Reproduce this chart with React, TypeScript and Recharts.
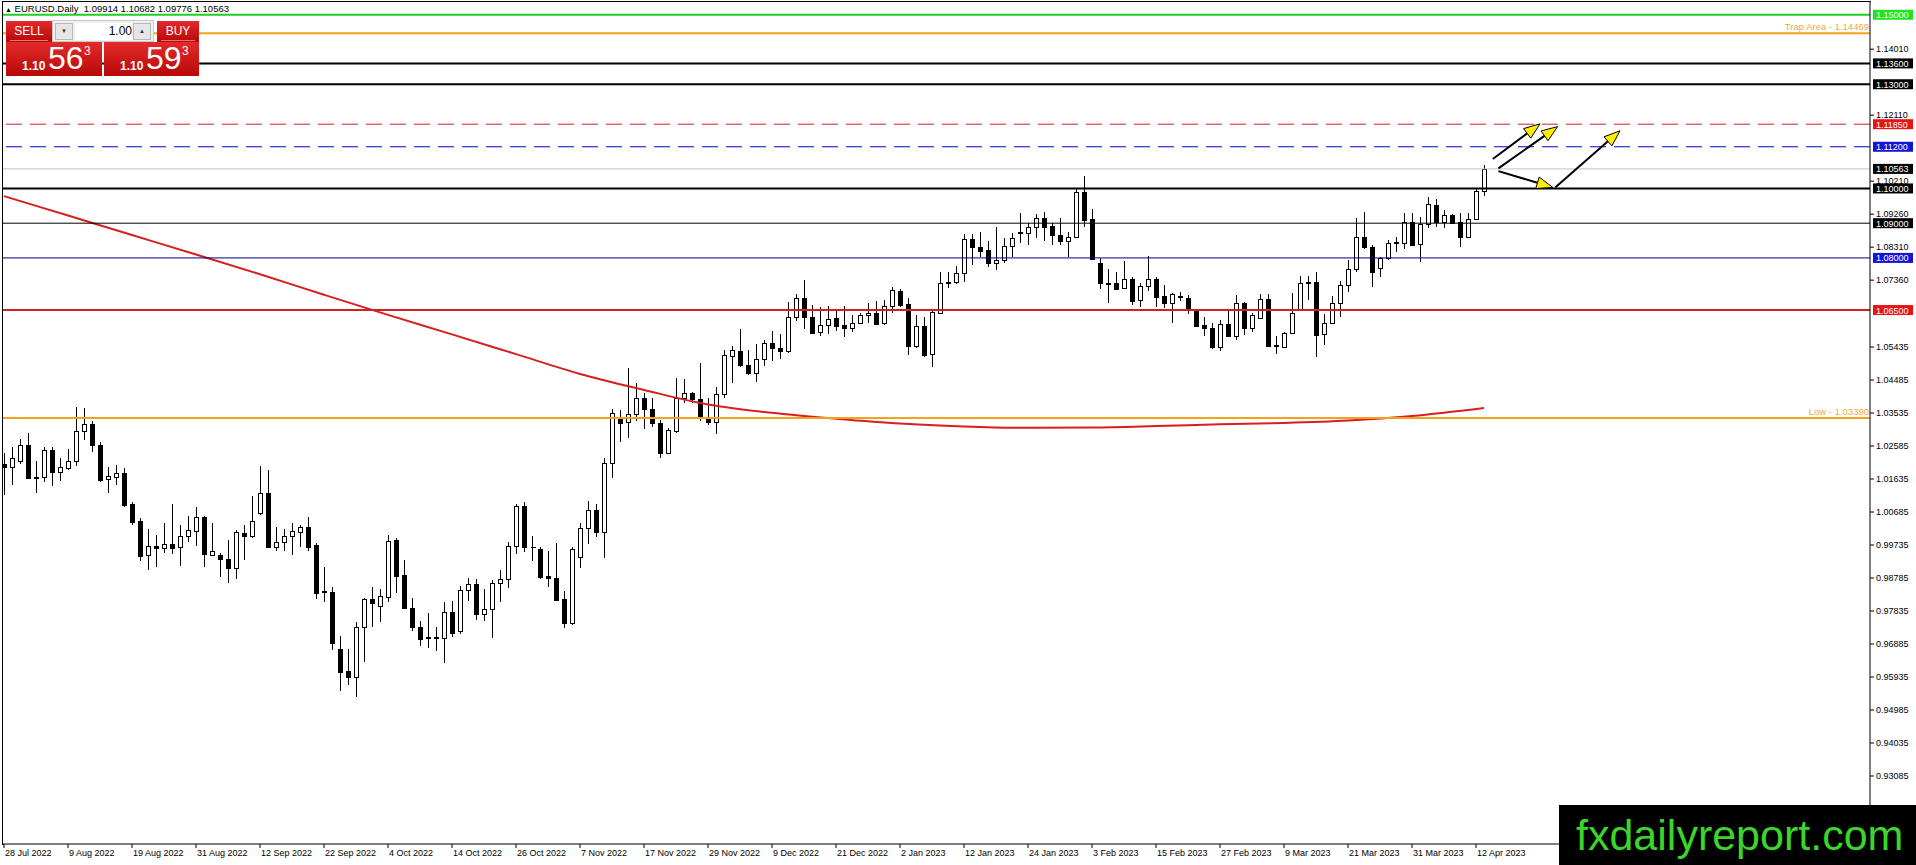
import React from 'react';
import { ComposedChart, Bar, Line, XAxis, YAxis, ReferenceLine } from 'recharts';

const FONT = "Tahoma, 'Liberation Sans', Arial, sans-serif";

// EURUSD daily candles, bar 0 = 28 Jul 2022 ... bar 185 = 13 Apr 2023
const opens = [
  1.0207, 1.0197, 1.0214, 1.0261, 1.0168, 1.0168, 1.0247, 1.0183, 1.0196, 1.0215,
  1.0302, 1.0322, 1.0262, 1.0163, 1.0170, 1.0180, 1.0092, 1.0043, 0.9944, 0.9971,
  0.9964, 0.9976, 0.9967, 0.9998, 1.0015, 1.0053, 0.9946, 0.9945, 0.9932, 0.9906,
  1.0007, 0.9998, 1.0067, 1.0122, 0.9969, 0.9981, 1.0000, 1.0012, 1.0024, 0.9974,
  0.9840, 0.9837, 0.9673, 0.9611, 0.9594, 0.9736, 0.9818, 0.9799, 0.9825, 0.9988,
  0.9887, 0.9793, 0.9738, 0.9708, 0.9707, 0.9705, 0.9780, 0.9727, 0.9844, 0.9860,
  0.9774, 0.9788, 0.9864, 0.9875, 0.9971, 1.0086, 0.9967, 0.9961, 0.9884, 0.9878,
  0.9817, 0.9750, 0.9940, 1.0022, 1.0074, 1.0012, 1.0209, 1.0338, 1.0327, 1.0351,
  1.0396, 1.0364, 1.0324, 1.0239, 1.0303, 1.0396, 1.0412, 1.0393, 1.0338, 1.0329,
  1.0407, 1.0518, 1.0532, 1.0492, 1.0468, 1.0508, 1.0554, 1.0540, 1.0533, 1.0631,
  1.0684, 1.0629, 1.0588, 1.0607, 1.0626, 1.0607, 1.0597, 1.0614, 1.0636, 1.0642,
  1.0612, 1.0662, 1.0706, 1.0667, 1.0547, 1.0604, 1.0522, 1.0640, 1.0728, 1.0732,
  1.0758, 1.0854, 1.0831, 1.0823, 1.0786, 1.0794, 1.0833, 1.0872, 1.0871, 1.0888,
  1.0916, 1.0892, 1.0866, 1.0850, 1.0861, 1.0989, 1.0911, 1.0786, 1.0727, 1.0727,
  1.0712, 1.0738, 1.0679, 1.0720, 1.0738, 1.0690, 1.0671, 1.0688, 1.0686, 1.0648,
  1.0607, 1.0597, 1.0544, 1.0610, 1.0576, 1.0669, 1.0597, 1.0626, 1.0681, 1.0549,
  1.0544, 1.0583, 1.0652, 1.0727, 1.0732, 1.0581, 1.0614, 1.0671, 1.0722, 1.0767,
  1.0859, 1.0832, 1.0770, 1.0799, 1.0845, 1.0844, 1.0904, 1.0840, 1.0898, 1.0952,
  1.0904, 1.0923, 1.0904, 1.0859, 1.0911, 1.09914,
];

const highs = [
  1.0237, 1.0257, 1.0278, 1.0295, 1.0214, 1.0257, 1.0255, 1.0223, 1.0249, 1.0372,
  1.0369, 1.0331, 1.0271, 1.0197, 1.0204, 1.0194, 1.0098, 1.0050, 1.0019, 1.0002,
  1.0036, 1.0092, 1.0031, 1.0057, 1.0082, 1.0057, 1.0036, 0.9950, 0.9988, 1.0017,
  1.0031, 1.0115, 1.0201, 1.0190, 1.0026, 1.0019, 1.0038, 1.0031, 1.0053, 0.9978,
  0.9909, 0.9854, 0.9712, 0.9673, 0.9753, 0.9820, 0.9854, 0.9846, 1.0002, 0.9995,
  0.9930, 0.9820, 0.9755, 0.9777, 0.9738, 0.9809, 0.9812, 0.9856, 0.9878, 0.9875,
  0.9846, 0.9873, 0.9902, 0.9983, 1.0092, 1.0097, 0.9999, 0.9967, 0.9956, 0.9980,
  0.9841, 0.9969, 1.0036, 1.0100, 1.0092, 1.0223, 1.0364, 1.0362, 1.0482, 1.0439,
  1.0412, 1.0396, 1.0333, 1.0309, 1.0453, 1.0450, 1.0415, 1.0497, 1.0396, 1.0429,
  1.0535, 1.0546, 1.0594, 1.0535, 1.0552, 1.0564, 1.0590, 1.0581, 1.0674, 1.0696,
  1.0736, 1.0665, 1.0660, 1.0662, 1.0648, 1.0662, 1.0636, 1.0641, 1.0671, 1.0676,
  1.0679, 1.0717, 1.0710, 1.0684, 1.0636, 1.0631, 1.0650, 1.0760, 1.0760, 1.0777,
  1.0869, 1.0869, 1.0876, 1.0850, 1.0888, 1.0856, 1.0871, 1.0928, 1.0900, 1.0926,
  1.0933, 1.0900, 1.0914, 1.0876, 1.1000, 1.1036, 1.0940, 1.0799, 1.0767, 1.0760,
  1.0792, 1.0746, 1.0727, 1.0806, 1.0744, 1.0722, 1.0698, 1.0703, 1.0693, 1.0652,
  1.0631, 1.0614, 1.0621, 1.0648, 1.0693, 1.0674, 1.0641, 1.0696, 1.0696, 1.0575,
  1.0588, 1.0700, 1.0748, 1.0748, 1.0760, 1.0639, 1.0689, 1.0735, 1.0794, 1.0914,
  1.0933, 1.0837, 1.0802, 1.0852, 1.0859, 1.0930, 1.0930, 1.0917, 1.0976, 1.0969,
  1.0938, 1.0926, 1.0930, 1.0930, 1.1000, 1.10682,
];

const lows = [
  1.0117, 1.0146, 1.0207, 1.0164, 1.0124, 1.0156, 1.0142, 1.0159, 1.0190, 1.0201,
  1.0276, 1.0240, 1.0156, 1.0124, 1.0146, 1.0082, 1.0031, 0.9928, 0.9902, 0.9911,
  0.9950, 0.9948, 0.9913, 0.9983, 0.9971, 0.9911, 0.9943, 0.9880, 0.9865, 0.9876,
  0.9930, 0.9993, 1.0060, 0.9964, 0.9957, 0.9957, 0.9945, 0.9969, 0.9957, 0.9817,
  0.9810, 0.9671, 0.9554, 0.9570, 0.9537, 0.9638, 0.9736, 0.9753, 0.9808, 0.9836,
  0.9789, 0.9727, 0.9683, 0.9676, 0.9669, 0.9635, 0.9710, 0.9717, 0.9812, 0.9758,
  0.9756, 0.9707, 0.9808, 0.9851, 0.9947, 0.9954, 0.9928, 0.9875, 0.9854, 0.9813,
  0.9734, 0.9743, 0.9906, 0.9976, 0.9996, 0.9935, 1.0165, 1.0271, 1.0281, 1.0331,
  1.0307, 1.0314, 1.0223, 1.0237, 1.0297, 1.0381, 1.0383, 1.0331, 1.0319, 1.0292,
  1.0396, 1.0439, 1.0487, 1.0463, 1.0444, 1.0489, 1.0504, 1.0508, 1.0525, 1.0619,
  1.0594, 1.0583, 1.0575, 1.0581, 1.0591, 1.0573, 1.0588, 1.0612, 1.0614, 1.0607,
  1.0607, 1.0642, 1.0660, 1.0521, 1.0540, 1.0516, 1.0485, 1.0639, 1.0712, 1.0725,
  1.0732, 1.0780, 1.0802, 1.0775, 1.0765, 1.0784, 1.0802, 1.0842, 1.0837, 1.0856,
  1.0850, 1.0837, 1.0837, 1.0802, 1.0859, 1.0890, 1.0794, 1.0710, 1.0669, 1.0710,
  1.0710, 1.0665, 1.0658, 1.0706, 1.0660, 1.0655, 1.0614, 1.0677, 1.0639, 1.0600,
  1.0576, 1.0537, 1.0533, 1.0571, 1.0564, 1.0578, 1.0588, 1.0623, 1.0544, 1.0523,
  1.0542, 1.0581, 1.0650, 1.0679, 1.0516, 1.0549, 1.0609, 1.0631, 1.0703, 1.0760,
  1.0825, 1.0715, 1.0746, 1.0794, 1.0818, 1.0825, 1.0834, 1.0789, 1.0885, 1.0890,
  1.0885, 1.0898, 1.0832, 1.0857, 1.0909, 1.09776,
];

const closes = [
  1.0197, 1.0225, 1.0261, 1.0166, 1.0166, 1.0246, 1.0185, 1.0197, 1.0215, 1.0302,
  1.0322, 1.0260, 1.0161, 1.0172, 1.0180, 1.0089, 1.0041, 0.9943, 0.9971, 0.9964,
  0.9976, 0.9966, 1.0000, 1.0017, 1.0053, 0.9947, 0.9955, 0.9932, 0.9906, 1.0010,
  1.0000, 1.0044, 1.0122, 0.9969, 0.9981, 1.0000, 1.0015, 1.0024, 0.9969, 0.9836,
  0.9838, 0.9690, 0.9609, 0.9594, 0.9738, 0.9818, 0.9806, 0.9827, 0.9985, 0.9885,
  0.9791, 0.9738, 0.9704, 0.9706, 0.9708, 0.9780, 0.9721, 0.9844, 0.9860, 0.9774,
  0.9789, 0.9863, 0.9875, 0.9971, 1.0086, 0.9967, 0.9968, 0.9882, 0.9878, 0.9815,
  0.9750, 0.9961, 1.0022, 1.0074, 1.0012, 1.0211, 1.0353, 1.0326, 1.0351, 1.0396,
  1.0364, 1.0326, 1.0239, 1.0305, 1.0396, 1.0412, 1.0393, 1.0345, 1.0329, 1.0407,
  1.0521, 1.0535, 1.0492, 1.0468, 1.0508, 1.0554, 1.0540, 1.0533, 1.0631, 1.0684,
  1.0629, 1.0585, 1.0607, 1.0623, 1.0604, 1.0597, 1.0614, 1.0636, 1.0642, 1.0610,
  1.0662, 1.0708, 1.0665, 1.0547, 1.0604, 1.0521, 1.0643, 1.0729, 1.0731, 1.0758,
  1.0854, 1.0831, 1.0821, 1.0786, 1.0794, 1.0833, 1.0856, 1.0874, 1.0888, 1.0916,
  1.0890, 1.0866, 1.0850, 1.0861, 1.0989, 1.0909, 1.0796, 1.0727, 1.0726, 1.0711,
  1.0738, 1.0677, 1.0720, 1.0738, 1.0688, 1.0671, 1.0695, 1.0690, 1.0652, 1.0604,
  1.0597, 1.0544, 1.0610, 1.0576, 1.0669, 1.0597, 1.0636, 1.0681, 1.0546, 1.0546,
  1.0583, 1.0642, 1.0729, 1.0732, 1.0578, 1.0614, 1.0669, 1.0722, 1.0767, 1.0859,
  1.0832, 1.0760, 1.0799, 1.0844, 1.0844, 1.0904, 1.0837, 1.0898, 1.0955, 1.0904,
  1.0923, 1.0901, 1.0859, 1.0911, 1.0993, 1.10563,
];

// 200-day moving average, read at every 8th bar
const maBars = [0, 8, 16, 24, 32, 40, 48, 56, 64, 72, 80, 88, 96, 104, 112, 120, 128, 136, 144, 152, 160, 168, 176, 185];
const maValues = [
  1.0978, 1.0922, 1.0866, 1.081, 1.0753, 1.0694, 1.0636, 1.058, 1.0523, 1.0466, 1.042, 1.0378,
  1.0354, 1.0337, 1.0323, 1.0315, 1.0311, 1.0312, 1.0316, 1.0321, 1.0325, 1.0332, 1.0345, 1.0368,
];

const tickBars = [0, 8, 16, 24, 32, 40, 48, 56, 64, 72, 80, 88, 96, 104, 112, 120, 128, 136, 144, 152, 160, 168, 176, 184];
const tickLabels = [
  '28 Jul 2022', '9 Aug 2022', '19 Aug 2022', '31 Aug 2022', '12 Sep 2022', '22 Sep 2022',
  '4 Oct 2022', '14 Oct 2022', '26 Oct 2022', '7 Nov 2022', '17 Nov 2022', '29 Nov 2022',
  '9 Dec 2022', '21 Dec 2022', '2 Jan 2023', '12 Jan 2023', '24 Jan 2023', '3 Feb 2023',
  '15 Feb 2023', '27 Feb 2023', '9 Mar 2023', '21 Mar 2023', '31 Mar 2023', '12 Apr 2023',
];

const priceTicks = [
  1.1401, 1.1211, 1.1021, 1.0926, 1.0831, 1.0736, 1.05435, 1.04485, 1.03535, 1.02585, 1.01635,
  1.00685, 0.99735, 0.98785, 0.97835, 0.96885, 0.95935, 0.94985, 0.94035, 0.93085,
];

// horizontal levels drawn on the chart
const levelPrices = [1.15, 1.14469, 1.136, 1.13, 1.1185, 1.112, 1.10563, 1.1, 1.09, 1.08, 1.065, 1.0339];
const levelTexts = [
  '1.15000', 'Trap Area - 1.14469', '1.13600', '1.13000', '1.11850', '1.11200',
  '1.10563', '1.10000', '1.09000', '1.08000', '1.06500', 'Low - 1.03390',
];

// hand-drawn arrows: [bar, price] start and end
const arrowFrom = [[186.1, 1.1085], [186.8, 1.1058], [186.8, 1.105], [193.9, 1.1003]];
const arrowTo = [[192.0, 1.1186], [194.2, 1.1178], [193.6, 1.1003], [202.0, 1.1166]];

const levelStyles = [
  { stroke: '#1ed01e', width: 2, tag: '#1ee41e' },
  { stroke: '#f4a21c', width: 2, note: '#f2a83a' },
  { stroke: '#000000', width: 2, tag: '#000000' },
  { stroke: '#000000', width: 2, tag: '#000000' },
  { stroke: '#d42020', width: 1, dash: '16 8', tag: '#e81414' },
  { stroke: '#0000c8', width: 1, dash: '16 8', tag: '#1414d8' },
  { stroke: '#c0c0c0', width: 1, tag: '#000000' },
  { stroke: '#000000', width: 2, tag: '#000000' },
  { stroke: '#000000', width: 1, tag: '#000000' },
  { stroke: '#000080', width: 1, tag: '#1414d8' },
  { stroke: '#d02020', width: 2, tag: '#e81414' },
  { stroke: '#f4a21c', width: 2, note: '#f2a83a' },
];

const rows = opens.map((o, i) => {
  const k = maBars.indexOf(i);
  return {
    bar: i,
    range: [lows[i], highs[i]],
    open: o,
    high: highs[i],
    low: lows[i],
    close: closes[i],
    ma: k >= 0 ? maValues[k] : null,
  };
});

const Candle = (props: any) => {
  const { x, y, width, height, payload } = props;
  if (!payload || !isFinite(y)) return null;
  const { open, high, low, close } = payload;
  const span = high - low || 1;
  const toY = (p: number) => y + ((high - p) / span) * height;
  const cx = Math.round(x + width / 2) + 0.5;
  const up = close > open;
  const top = Math.round(toY(Math.max(open, close))) + 0.5;
  const bot = Math.max(Math.round(toY(Math.min(open, close))) + 0.5, top);
  return (
    <g shapeRendering="crispEdges">
      <line x1={cx} x2={cx} y1={y} y2={y + height} stroke="#000" strokeWidth={1} />
      {bot - top < 1 ? (
        <line x1={cx - 2} x2={cx + 3} y1={top} y2={top} stroke="#000" strokeWidth={1.5} />
      ) : (
        <rect x={cx - 2} y={top} width={4} height={bot - top} fill={up ? '#fff' : '#000'} stroke="#000" strokeWidth={1} />
      )}
    </g>
  );
};

const AxisTag = (props: any) => {
  const { viewBox, text, bg } = props;
  if (!viewBox) return null;
  const { x, y, width } = viewBox;
  return (
    <g>
      <rect x={x + width + 3} y={y - 5} width={40} height={10} fill={bg} />
      <text x={x + width + 6} y={y + 3.5} fontSize={9} fontFamily={FONT} fill="#fff">
        {text}
      </text>
    </g>
  );
};

const NoteTag = (props: any) => {
  const { viewBox, text, color } = props;
  if (!viewBox) return null;
  const { x, y, width } = viewBox;
  return (
    <text x={x + width - 1} y={y - 3} fontSize={9.5} fontFamily={FONT} fill={color} textAnchor="end">
      {text}
    </text>
  );
};

const Arrow = (props: any) => {
  const { x1, y1, x2, y2 } = props;
  const a = Math.atan2(y2 - y1, x2 - x1);
  const L = 16;
  const W = 6;
  const bx = x2 - L * Math.cos(a);
  const by = y2 - L * Math.sin(a);
  const nx = -Math.sin(a) * W;
  const ny = Math.cos(a) * W;
  return (
    <g>
      <line x1={x1} y1={y1} x2={bx} y2={by} stroke="#000" strokeWidth={2} />
      <polygon
        points={`${x2},${y2} ${bx + nx},${by + ny} ${bx - nx},${by - ny}`}
        fill="#ffee00"
        stroke="#000"
        strokeWidth={1}
      />
    </g>
  );
};

const XTick = (props: any) => {
  const { x, y, payload } = props;
  const k = tickBars.indexOf(payload.value);
  return (
    <text x={x + 1} y={y} dy="0.71em" fontSize={9} fontFamily={FONT} fill="#000" textAnchor="start">
      {k >= 0 ? tickLabels[k] : ''}
    </text>
  );
};

const redBox = 'linear-gradient(#e42a2a, #b80808)';

export default function App() {
  return (
    <div style={{ position: 'fixed', left: 0, top: 0, width: 1916, height: 865, background: '#fff', overflow: 'hidden', fontFamily: FONT }}>
      <ComposedChart width={1916} height={865} data={rows} margin={{ top: 2, right: 0, bottom: 0, left: 2 }}>
        <XAxis
          type="number"
          dataKey="bar"
          domain={[-0.25, 233.25]}
          allowDataOverflow
          ticks={tickBars}
          interval={0}
          height={21}
          tickSize={4}
          tick={<XTick />}
          axisLine={{ stroke: '#000' }}
          tickLine={{ stroke: '#000' }}
        />
        <YAxis
          orientation="right"
          type="number"
          domain={[0.91127, 1.15368]}
          allowDataOverflow
          ticks={priceTicks}
          interval={0}
          width={46}
          tickSize={4}
          tickMargin={2}
          tickFormatter={(v: number) => v.toFixed(5)}
          tick={{ fontSize: 9, fill: '#000', fontFamily: FONT }}
          axisLine={{ stroke: '#000' }}
          tickLine={{ stroke: '#000' }}
        />
        <Bar dataKey="range" barSize={6} shape={<Candle />} isAnimationActive={false} />
        <Line
          dataKey="ma"
          type="monotone"
          connectNulls
          dot={false}
          activeDot={false}
          stroke="#d81e1e"
          strokeWidth={2}
          isAnimationActive={false}
        />
        {levelPrices.map((p, i) => {
          const s = levelStyles[i];
          return (
            <ReferenceLine
              key={`lvl-${i}`}
              y={p}
              stroke={s.stroke}
              strokeWidth={s.width}
              strokeDasharray={s.dash}
              label={
                s.tag ? (
                  <AxisTag text={levelTexts[i]} bg={s.tag} />
                ) : (
                  <NoteTag text={levelTexts[i]} color={s.note} />
                )
              }
            />
          );
        })}
        {arrowFrom.map((f, i) => (
          <ReferenceLine
            key={`arr-${i}`}
            segment={[
              { x: f[0], y: f[1] },
              { x: arrowTo[i][0], y: arrowTo[i][1] },
            ]}
            shape={<Arrow />}
          />
        ))}
      </ComposedChart>

      {/* chart frame, left and top */}
      <div style={{ position: 'absolute', left: 2, top: 1, width: 1868, height: 843, borderLeft: '1px solid #000', borderTop: '1px solid #000', pointerEvents: 'none' }} />

      {/* symbol header */}
      <div style={{ position: 'absolute', left: 5, top: 4, fontSize: 9.5, lineHeight: '10px', color: '#000', whiteSpace: 'pre' }}>
        <span style={{ fontSize: 7 }}>▲</span> EURUSD.Daily  1.09914 1.10682 1.09776 1.10563
      </div>

      {/* one-click trading panel */}
      <div style={{ position: 'absolute', left: 6, top: 21, width: 46, height: 21, background: redBox, color: '#fff', fontSize: 12, lineHeight: '21px', textAlign: 'center' }}>
        SELL
        <div style={{ position: 'absolute', left: 4, right: 4, bottom: 1, height: 1, background: 'rgba(255,255,255,0.45)' }} />
      </div>
      <div style={{ position: 'absolute', left: 52, top: 20, width: 102, height: 22, background: '#f0f0f0', border: '1px solid #c8c8c8', boxSizing: 'border-box' }}>
        <div style={{ position: 'absolute', left: 2, top: 2, width: 18, height: 17, background: '#e6e6e6', border: '1px solid #b8b8b8', boxSizing: 'border-box', fontSize: 6, lineHeight: '15px', textAlign: 'center', color: '#333' }}>▼</div>
        <div style={{ position: 'absolute', left: 22, top: 2, width: 57, height: 17, background: '#fff', fontSize: 12, lineHeight: '17px', textAlign: 'right', color: '#000' }}>1.00</div>
        <div style={{ position: 'absolute', left: 80, top: 2, width: 18, height: 17, background: '#e6e6e6', border: '1px solid #b8b8b8', boxSizing: 'border-box', fontSize: 6, lineHeight: '15px', textAlign: 'center', color: '#333' }}>▲</div>
      </div>
      <div style={{ position: 'absolute', left: 157, top: 21, width: 42, height: 21, background: redBox, color: '#fff', fontSize: 12, lineHeight: '21px', textAlign: 'center' }}>
        BUY
        <div style={{ position: 'absolute', left: 4, right: 4, bottom: 1, height: 1, background: 'rgba(255,255,255,0.45)' }} />
      </div>
      {[
        { left: 6, width: 96, big: '56' },
        { left: 104, width: 95, big: '59' },
      ].map((b) => (
        <div key={b.big} style={{ position: 'absolute', left: b.left, top: 42, width: b.width, height: 34, background: redBox, color: '#fff', lineHeight: 1 }}>
          <span style={{ position: 'absolute', left: 16, top: 18, fontSize: 12, fontWeight: 'bold' }}>1.10</span>
          <span style={{ position: 'absolute', left: 42, top: 0, fontSize: 32 }}>{b.big}</span>
          <span style={{ position: 'absolute', left: 78, top: 3, fontSize: 12 }}>3</span>
        </div>
      ))}

      {/* watermark */}
      <div style={{ position: 'absolute', left: 1559, top: 805, width: 357, height: 60, background: '#000', color: '#3ad629', fontFamily: "'Liberation Sans', Arial, sans-serif", fontSize: 43, lineHeight: '60px', paddingLeft: 17, boxSizing: 'border-box', whiteSpace: 'nowrap' }}>
        fxdailyreport.com
      </div>
    </div>
  );
}
